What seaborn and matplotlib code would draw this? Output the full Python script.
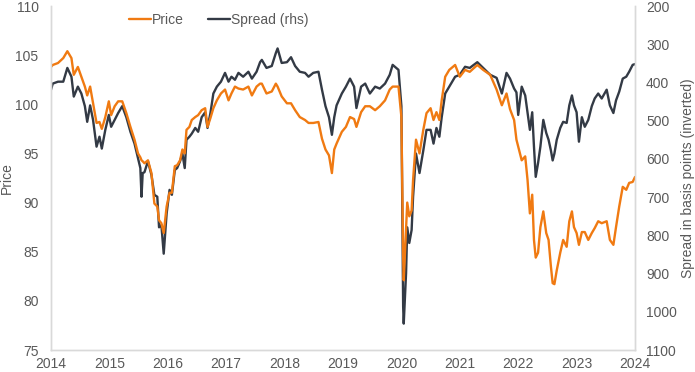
import matplotlib
matplotlib.use("Agg")
import matplotlib.pyplot as plt
import seaborn as sns
import pandas as pd

sns.set_style("white")
plt.rcParams["font.family"] = ["Liberation Sans", "DejaVu Sans"]
plt.rcParams["font.size"] = 10

t = [2014.00, 2014.03, 2014.12, 2014.21, 2014.28, 2014.35, 2014.39, 2014.46, 2014.52, 2014.58,
     2014.62, 2014.67, 2014.72, 2014.78, 2014.83, 2014.87, 2014.93, 2014.99, 2015.03, 2015.09,
     2015.15, 2015.22, 2015.29, 2015.36, 2015.43, 2015.49, 2015.53, 2015.55, 2015.57, 2015.60,
     2015.66, 2015.72, 2015.77, 2015.82, 2015.85, 2015.89, 2015.93, 2015.98, 2016.03, 2016.07,
     2016.12, 2016.16, 2016.21, 2016.25, 2016.29, 2016.32, 2016.37, 2016.41, 2016.47, 2016.52,
     2016.58, 2016.64, 2016.68, 2016.73, 2016.78, 2016.84, 2016.91, 2016.98, 2017.04, 2017.09,
     2017.15, 2017.21, 2017.29, 2017.38, 2017.44, 2017.52, 2017.58, 2017.61, 2017.69, 2017.78,
     2017.85, 2017.88, 2017.95, 2018.04, 2018.11, 2018.18, 2018.26, 2018.35, 2018.41, 2018.49,
     2018.58, 2018.64, 2018.70, 2018.76, 2018.81, 2018.85, 2018.89, 2018.98, 2019.05, 2019.12,
     2019.19, 2019.23, 2019.31, 2019.38, 2019.46, 2019.55, 2019.63, 2019.72, 2019.80, 2019.85,
     2019.95, 2020.00, 2020.03, 2020.04, 2020.08, 2020.10, 2020.135, 2020.175, 2020.20, 2020.25,
     2020.31, 2020.375, 2020.43, 2020.50, 2020.55, 2020.60, 2020.65, 2020.69, 2020.75, 2020.82,
     2020.92, 2021.00, 2021.09, 2021.17, 2021.30, 2021.40, 2021.52, 2021.63, 2021.72, 2021.80,
     2021.86, 2021.93, 2021.97, 2022.00, 2022.06, 2022.12, 2022.16, 2022.20, 2022.24, 2022.27,
     2022.30, 2022.34, 2022.38, 2022.43, 2022.48, 2022.52, 2022.56, 2022.59, 2022.62, 2022.66,
     2022.72, 2022.77, 2022.83, 2022.875, 2022.92, 2022.955, 2023.00, 2023.04, 2023.09, 2023.14,
     2023.20, 2023.26, 2023.31, 2023.37, 2023.43, 2023.515, 2023.57, 2023.63, 2023.675, 2023.73,
     2023.79, 2023.85, 2023.90, 2023.96, 2024.00]

price = [103.8, 104.0, 104.2, 104.7, 105.4, 104.7, 103.0, 103.8, 102.8, 101.8,
         100.9, 101.8, 100.1, 98.1, 98.2, 97.5, 98.7, 100.3, 98.9, 99.8,
         100.3, 100.3, 99.1, 97.7, 96.4, 95.0, 94.6, 94.3, 94.2, 94.0,
         94.3, 93.0, 89.9, 89.6, 88.2, 87.9, 86.9, 89.6, 91.0, 91.0,
         93.7, 93.8, 94.3, 95.4, 95.0, 97.4, 97.7, 98.4, 98.7, 98.9,
         99.4, 99.6, 97.7, 98.6, 99.6, 100.4, 101.1, 101.5, 100.4, 101.1,
         101.8, 101.6, 101.5, 101.8, 100.9, 101.8, 102.1, 102.1, 101.1, 101.3,
         102.1, 101.8, 100.8, 100.1, 100.1, 99.4, 98.7, 98.4, 98.1, 98.1,
         98.2, 96.5, 95.4, 94.8, 93.0, 95.4, 96.0, 97.2, 97.7, 98.7,
         98.5, 97.7, 99.2, 99.8, 99.8, 99.4, 99.8, 100.4, 101.5, 101.8,
         101.8, 98.7, 84.5, 82.1, 87.5, 90.0, 88.6, 89.2, 92.3, 96.4,
         95.0, 97.4, 99.1, 99.6, 98.4, 99.2, 98.4, 100.4, 102.8, 103.5,
         104.0, 102.8, 103.5, 103.3, 104.0, 103.5, 103.0, 101.5, 99.9, 101.1,
         99.5, 98.4, 96.4, 95.7, 94.3, 94.7, 92.3, 88.9, 90.8, 86.2,
         84.4, 84.9, 87.5, 89.1, 86.9, 86.2, 83.5, 81.8, 81.7, 83.1,
         84.9, 86.2, 85.5, 88.1, 89.1, 87.5, 86.9, 85.7, 87.0, 87.0,
         86.2, 86.9, 87.4, 88.1, 87.9, 88.1, 86.2, 85.7, 87.5, 89.6,
         91.6, 91.3, 92.0, 92.1, 92.6]

spread = [419, 403, 398, 398, 362, 385, 437, 411, 429, 462,
          503, 460, 498, 568, 542, 573, 524, 485, 516, 498,
          480, 462, 491, 529, 560, 599, 624, 699, 637, 635,
          606, 642, 694, 699, 779, 773, 848, 743, 681, 694,
          629, 624, 606, 586, 624, 550, 542, 534, 519, 529,
          491, 478, 519, 480, 429, 411, 398, 375, 398, 385,
          393, 375, 385, 372, 390, 372, 347, 341, 362, 357,
          323, 311, 349, 347, 334, 357, 372, 375, 385, 375,
          372, 419, 462, 491, 537, 491, 460, 429, 411, 390,
          411, 467, 411, 403, 429, 411, 416, 403, 380, 354,
          367, 462, 987, 1031, 899, 779, 820, 786, 699, 586,
          637, 578, 524, 524, 560, 519, 542, 491, 429, 411,
          385, 380, 359, 362, 347, 362, 380, 388, 429, 375,
          390, 416, 426, 485, 411, 434, 480, 524, 478, 568,
          647, 611, 568, 498, 532, 550, 578, 604, 586, 550,
          519, 503, 506, 460, 434, 460, 478, 555, 491, 516,
          498, 462, 442, 429, 442, 419, 460, 480, 447, 424,
          390, 385, 372, 354, 352]

years = list(range(2014, 2025))
price_ticks = list(range(75, 111, 5))
spread_ticks = list(range(200, 1101, 100))

orange = "#f07a12"
dark = "#333a45"
grey_text = "#595959"
axis_grey = "#d9d9d9"

df = pd.DataFrame({"t": t, "Price": price, "Spread": spread})

fig, ax = plt.subplots(figsize=(6.95, 3.72), dpi=100)
ax2 = ax.twinx()

sns.lineplot(data=df, x="t", y="Price", color=orange, linewidth=1.7, ax=ax, label="Price", legend=False)
sns.lineplot(data=df, x="t", y="Spread", color=dark, linewidth=1.7, ax=ax2, label="Spread (rhs)", legend=False)

ax.set_xlim(2014, 2024)
ax.set_ylim(75, 110)
ax2.set_ylim(1100, 200)
ax.set_xticks(years, [str(y) for y in years])
ax.set_yticks(price_ticks)
ax2.set_yticks(spread_ticks)

for a in (ax, ax2):
    a.tick_params(axis="both", length=0, labelsize=10, labelcolor=grey_text)
    a.spines["top"].set_visible(False)
    for s in ("left", "right", "bottom"):
        a.spines[s].set_color(axis_grey)
        a.spines[s].set_linewidth(1.0)
ax.tick_params(axis="y", pad=9)
ax.tick_params(axis="x", pad=5)
ax2.tick_params(axis="y", pad=8)

ax.set_xlabel("")
ax.set_ylabel("Price", color=grey_text, fontsize=10, labelpad=1)
ax2.set_ylabel("Spread in basis points (inverted)", color=grey_text, fontsize=10,
               rotation=90, labelpad=3)

h1, l1 = ax.get_legend_handles_labels()
h2, l2 = ax2.get_legend_handles_labels()
ax.legend(h1 + h2, l1 + l2, loc="center", bbox_to_anchor=(0.287, 0.96), ncol=2,
          frameon=False, handlelength=1.6, handletextpad=0.1, columnspacing=1.7,
          fontsize=10, labelcolor=grey_text)

ax2.set_zorder(1)
ax.set_zorder(2)
ax.patch.set_visible(False)

plt.subplots_adjust(left=51 / 695, right=635 / 695, top=1 - 6 / 372, bottom=1 - 350 / 372)
plt.savefig("out.png", dpi=100)
